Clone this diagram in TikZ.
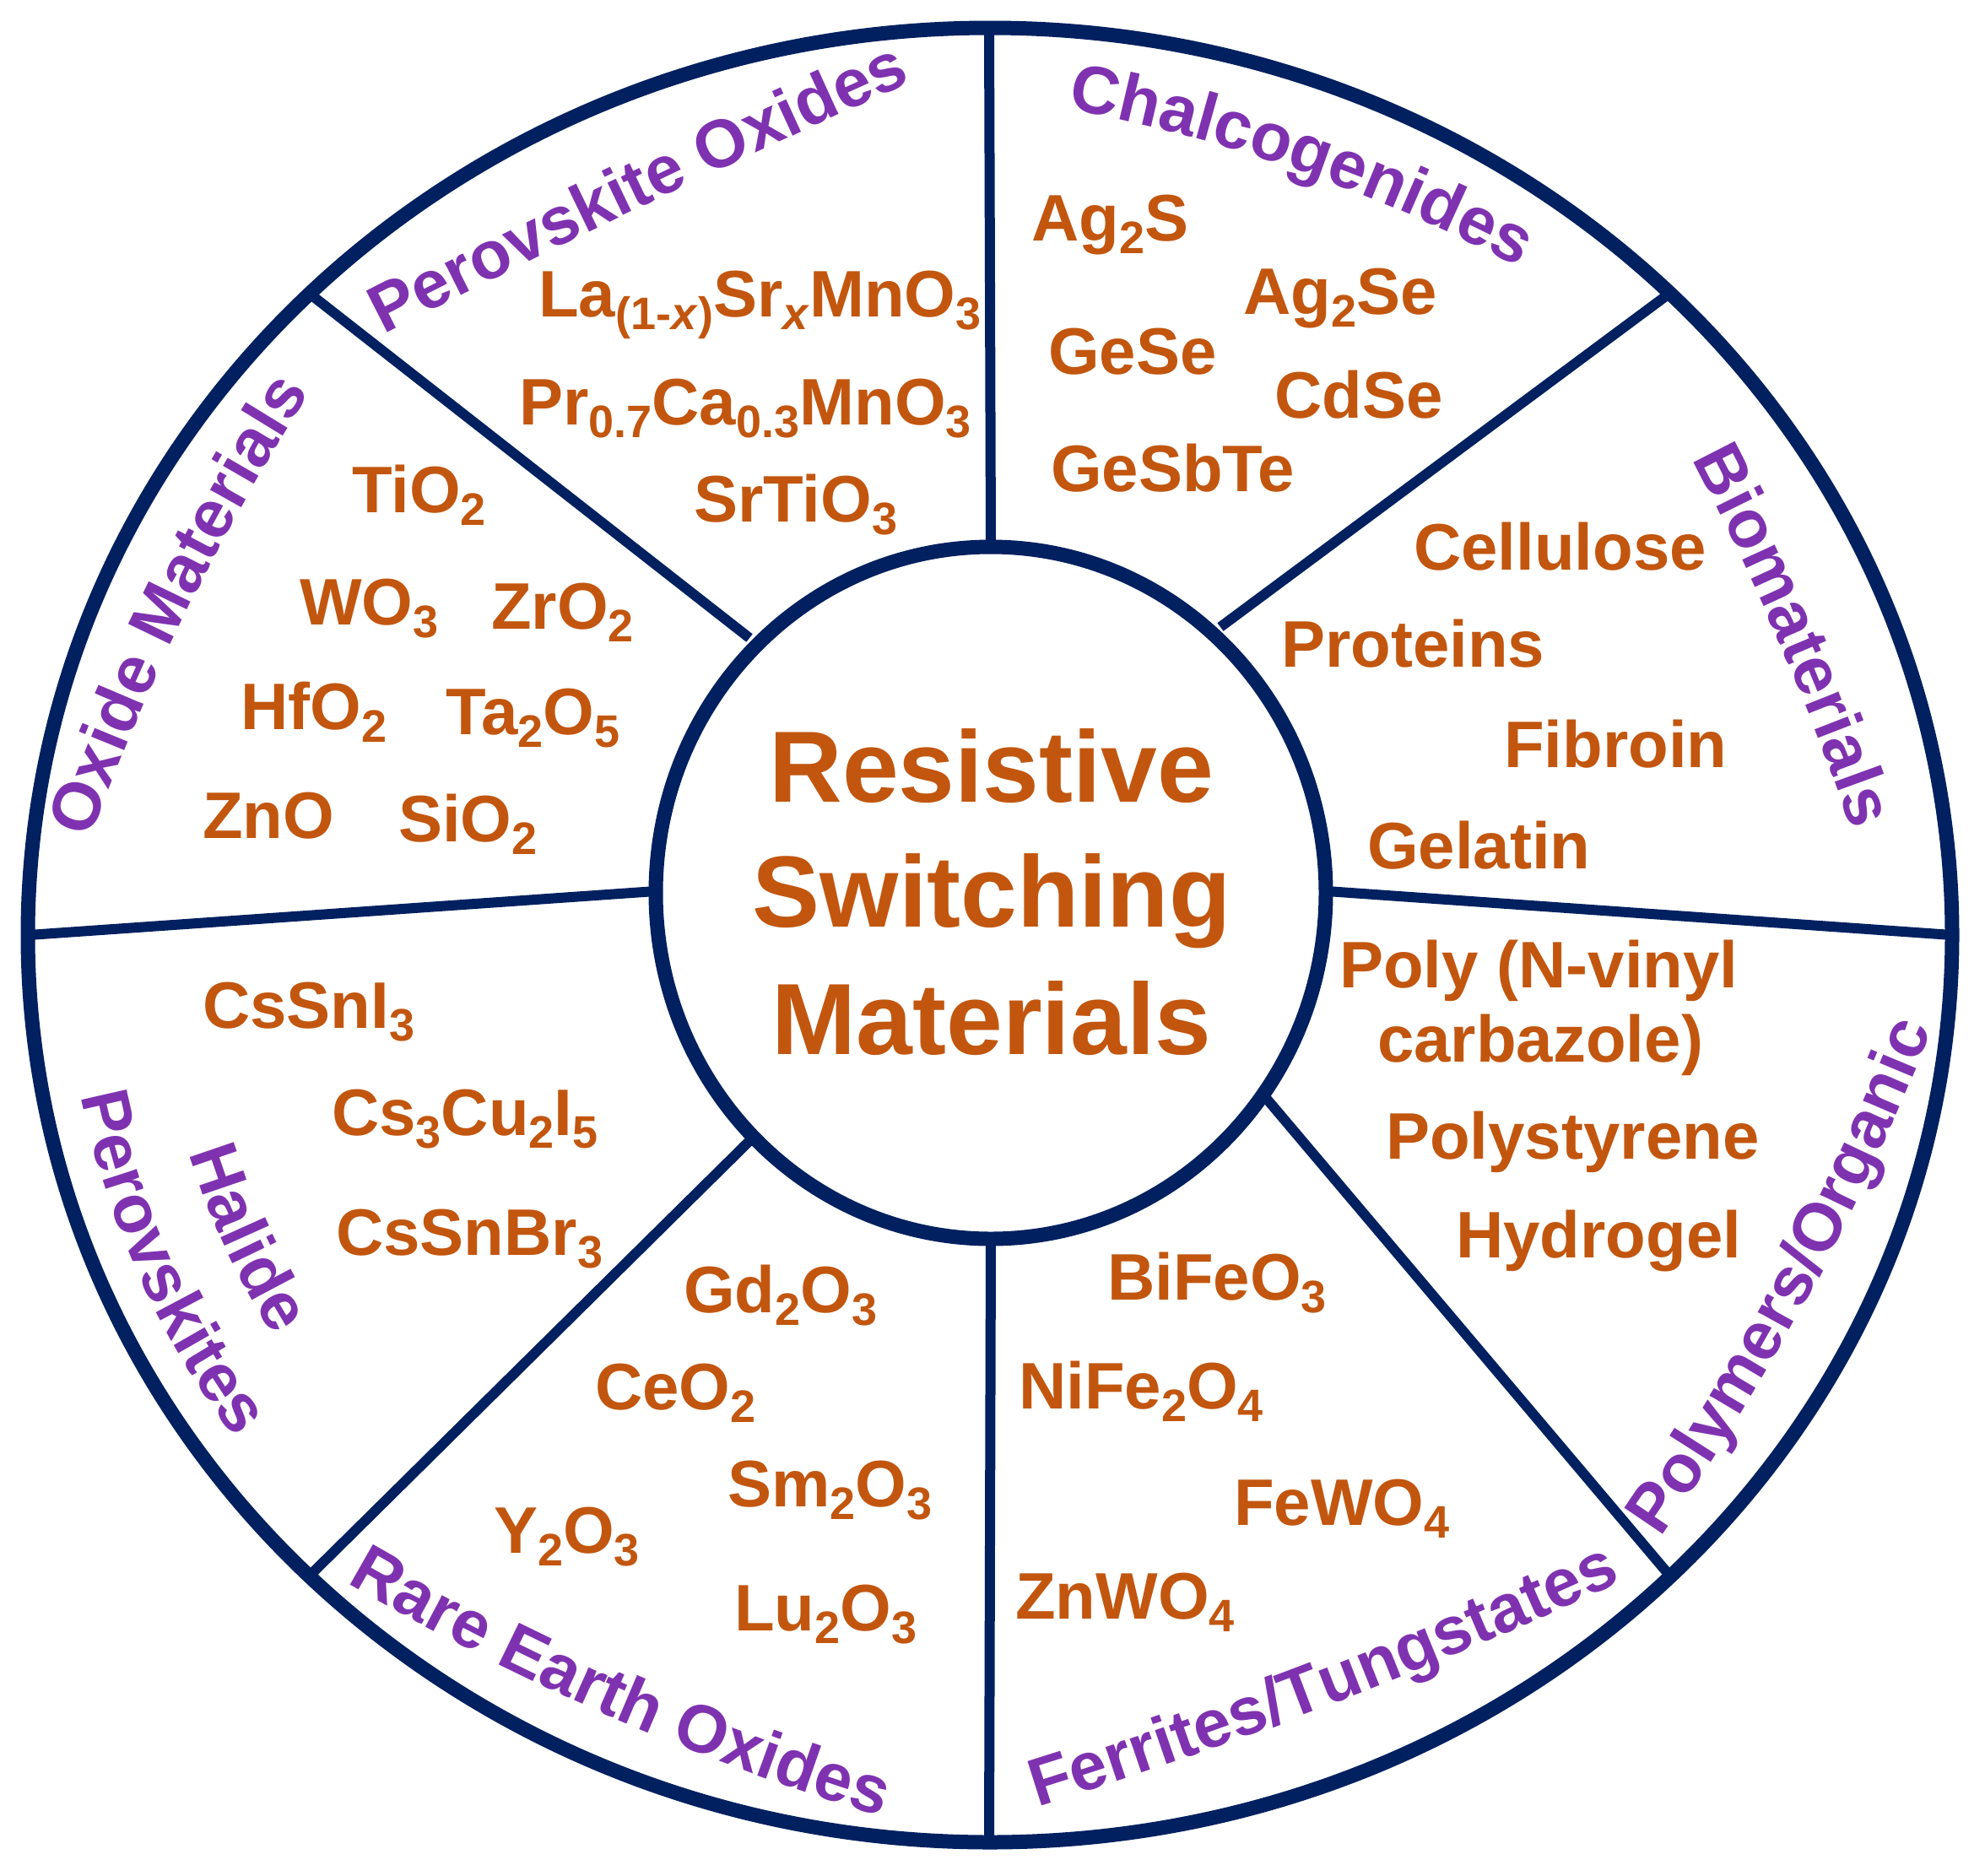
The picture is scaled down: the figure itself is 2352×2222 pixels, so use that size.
\documentclass[tikz,border=0pt]{standalone}
\usepackage{fontspec}
\setmainfont{Liberation Sans}
\usetikzlibrary{decorations.text,calc}
\definecolor{rim}{HTML}{002060}
\definecolor{mat}{HTML}{C2560F}
\definecolor{cat}{HTML}{7F32B0}
% chemical subscript
\newcommand\sbs[1]{\raisebox{-15pt}{\fontsize{54}{54}\selectfont #1}}
\newcommand\catfont{\fontsize{80}{80}\selectfont\bfseries}
% category label set along an arc of the rim ellipse:
% #1 start angle, #2 end angle, #3 radius factor, #4 text
\newcommand\arclabel[4]{%
  \path[decorate, decoration={text along path, text align=center, text color=cat,
      text={|\catfont|#4}}]
    ([shift={(#1:{1140*#3} and {1075*#3})}]O)
    arc[start angle=#1, end angle=#2, x radius={1140*#3}, y radius={1075*#3}];}
% category label set along a gentle curve from #1 to #3 bowed towards #2
\newcommand\curvelabel[4]{%
  \path[decorate, decoration={text along path, text align=center, text color=cat,
      text={|\catfont|#4}}]
    (#1) .. controls ($(#1)!2/3!(#2)$) and ($(#3)!2/3!(#2)$) .. (#3);}

\begin{document}
\begin{tikzpicture}[x=1pt,y=1pt,
  material/.style={anchor=base west, inner sep=0pt, text=mat,
    font=\fontsize{78}{90}\selectfont\bfseries},
  headline/.style={anchor=base, inner sep=0pt, text=mat,
    font=\fontsize{120}{150}\selectfont\bfseries},
  spoke/.style={draw=rim, line width=12pt},
  rimline/.style={draw=rim, line width=17pt},
]
\useasboundingbox (0,0) rectangle (2352,-2222);
\fill[white] (0,0) rectangle (2352,-2222);

% centres of the rim and the hub
\coordinate (O) at (1173,-1108);
\coordinate (H) at (1174,-1058);

% spoke ends: hub side (i) and rim side (o)
\coordinate (iN)  at (1174,-647);  \coordinate (oN)  at (1172,-33);
\coordinate (iNE) at (1446,-743);  \coordinate (oNE) at (1975,-350);
\coordinate (iE)  at (1572,-1056); \coordinate (oE)  at (2313,-1108);
\coordinate (iSE) at (1500,-1301); \coordinate (oSE) at (1975,-1863);
\coordinate (iS)  at (1174,-1468); \coordinate (oS)  at (1172,-2183);
\coordinate (iSW) at (888,-1352);  \coordinate (oSW) at (368,-1866);
\coordinate (iW)  at (777,-1056);  \coordinate (oW)  at (34,-1108);
\coordinate (iNW) at (888,-756);   \coordinate (oNW) at (372,-352);

\foreach \d in {N,NE,E,SE,S,SW,W,NW}
  \draw[spoke] (i\d) -- (o\d);

% rim and hub
\draw[rimline] (O) ellipse [x radius=1140, y radius=1075];
\draw[rimline, fill=white] (H) ellipse [x radius=397, y radius=410];

% central title
\node[headline] (t1) at (1175,-950)  {Resistive};
\node[headline] (t2) at (1175,-1098) {Switching};
\node[headline] (t3) at (1175,-1249) {Materials};

% baselines of the category labels: start, bow, end
\coordinate (chA) at (1224.8,-121.4); \coordinate (chB) at (1548.6,-176.2); \coordinate (chC) at (1835.2,-336.6);
\coordinate (poA) at (401.9,-423.6);  \coordinate (poB) at (762.4,-236.8);  \coordinate (poC) at (1134.1,-73.4);
\coordinate (biA) at (1982.2,-501.1); \coordinate (biB) at (2119.9,-755.2); \coordinate (biC) at (2209.8,-1029.9);
\coordinate (pyA) at (1941.4,-1859.1);\coordinate (pyB) at (2167.6,-1542.1);\coordinate (pyC) at (2305.6,-1177.9);
\coordinate (feA) at (1184.4,-2155);  \coordinate (feB) at (1585.2,-2033.4);\coordinate (feC) at (1963.6,-1854);
\coordinate (reA) at (366.2,-1848.9); \coordinate (reB) at (709.1,-2056.1); \coordinate (reC) at (1093.8,-2168.1);
\coordinate (oxA) at (92.9,-1034.9);  \coordinate (oxB) at (202.5,-712.6);  \coordinate (oxC) at (391.1,-429.1);

% category labels
\curvelabel{chA}{chB}{chC}{Chalcogenides}
\curvelabel{poA}{poB}{poC}{Perovskite Oxides}
\curvelabel{biA}{biB}{biC}{Biomaterials}
\curvelabel{pyA}{pyB}{pyC}{Polymers/Organic}
\curvelabel{feA}{feB}{feC}{Ferrites/Tungstates}
\curvelabel{reA}{reB}{reC}{Rare Earth Oxides}
\curvelabel{oxA}{oxB}{oxC}{Oxide Materials}
\arclabel{162.9}{242.9}{0.866}{Halide}
\arclabel{162.5}{242.5}{0.961}{Perovskites}

% perovskite oxides
\node[material] (lsmo) at (638,-375) {La\sbs{(1-\textit{x})}Sr\sbs{\textit{x}}MnO\sbs{3}};
\node[material] (pcmo) at (615,-503) {Pr\sbs{0.7}Ca\sbs{0.3}MnO\sbs{3}};
\node[material] (sto)  at (822,-618) {SrTiO\sbs{3}};

% chalcogenides
\node[material] (ags)    at (1222,-285) {Ag\sbs{2}S};
\node[material] (agse)   at (1473,-372) {Ag\sbs{2}Se};
\node[material] (gese)   at (1242,-443) {GeSe};
\node[material] (cdse)   at (1510,-495) {CdSe};
\node[material] (gesbte) at (1245,-582) {GeSbTe};

% biomaterials
\node[material] (cell) at (1675,-675)  {Cellulose};
\node[material] (prot) at (1518,-790)  {Proteins};
\node[material] (fib)  at (1782,-909)  {Fibroin};
\node[material] (gel)  at (1620,-1029) {Gelatin};

% polymers / organic
\node[material] (pvk1) at (1587,-1170) {Poly (N-vinyl};
\node[material] (pvk2) at (1632,-1258) {carbazole)};
\node[material] (ps)   at (1642,-1373) {Polystyrene};
\node[material] (hyd)  at (1725,-1490) {Hydrogel};

% ferrites / tungstates
\node[material] (bfo)  at (1312,-1540) {BiFeO\sbs{3}};
\node[material] (nfo)  at (1207,-1669) {NiFe\sbs{2}O\sbs{4}};
\node[material] (fwo)  at (1462,-1807) {FeWO\sbs{4}};
\node[material] (zwo)  at (1203,-1918) {ZnWO\sbs{4}};

% rare earth oxides
\node[material] (gdo) at (810,-1555) {Gd\sbs{2}O\sbs{3}};
\node[material] (ceo) at (705,-1670) {CeO\sbs{2}};
\node[material] (smo) at (862,-1785) {Sm\sbs{2}O\sbs{3}};
\node[material] (yo)  at (585,-1840) {Y\sbs{2}O\sbs{3}};
\node[material] (luo) at (870,-1932) {Lu\sbs{2}O\sbs{3}};

% halide perovskites
\node[material] (csi)  at (240,-1218) {CsSnI\sbs{3}};
\node[material] (cci)  at (393,-1345) {Cs\sbs{3}Cu\sbs{2}I\sbs{5}};
\node[material] (csbr) at (398,-1487) {CsSnBr\sbs{3}};

% oxide materials
\node[material] (tio) at (417,-607) {TiO\sbs{2}};
\node[material] (wo)  at (355,-740) {WO\sbs{3}};
\node[material] (zro) at (582,-745) {ZrO\sbs{2}};
\node[material] (hfo) at (285,-864) {HfO\sbs{2}};
\node[material] (tao) at (528,-870) {Ta\sbs{2}O\sbs{5}};
\node[material] (zno) at (240,-993) {ZnO};
\node[material] (sio) at (472,-997) {SiO\sbs{2}};
\end{tikzpicture}
\end{document}
